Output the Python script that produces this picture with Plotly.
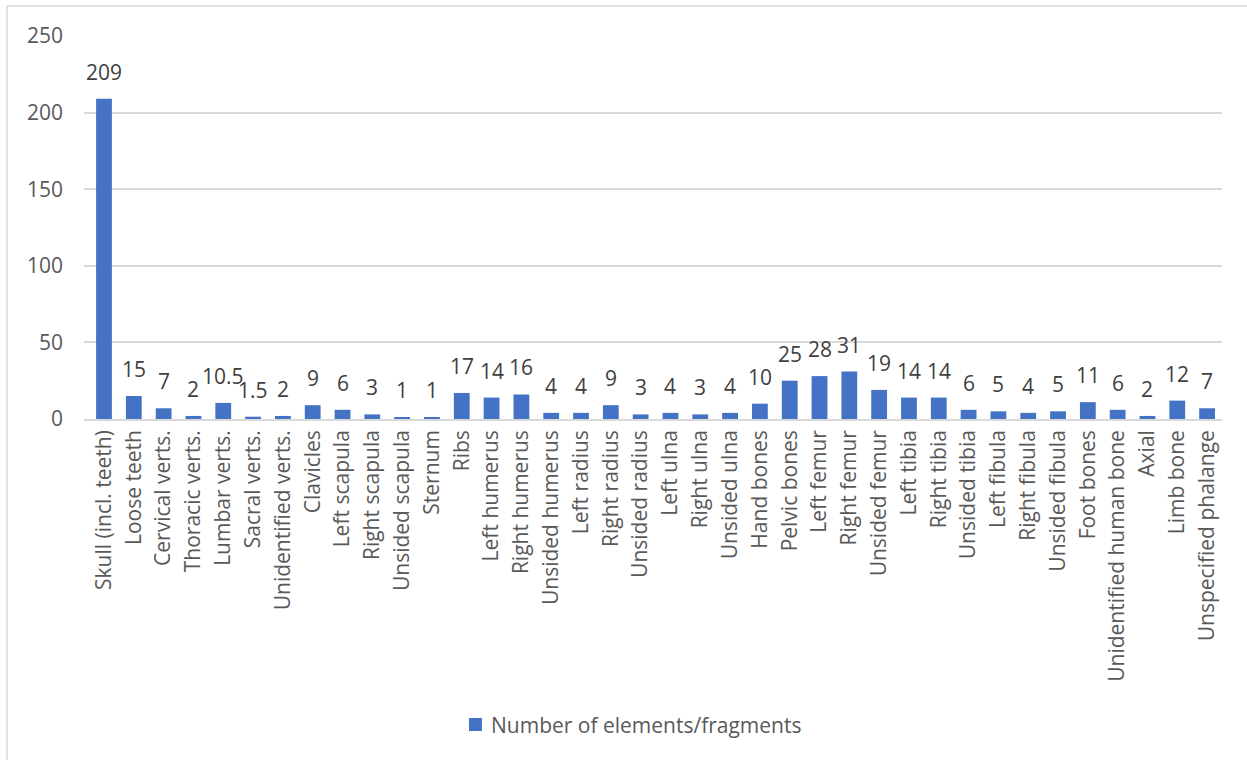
import plotly.graph_objects as go

# Skeletal elements and fragment counts
elements = [
    "Skull (incl. teeth)", "Loose teeth", "Cervical verts.", "Thoracic verts.",
    "Lumbar verts.", "Sacral verts.", "Unidentified verts.", "Clavicles",
    "Left scapula", "Right scapula", "Unsided scapula", "Sternum", "Ribs",
    "Left humerus", "Right humerus", "Unsided humerus", "Left radius",
    "Right radius", "Unsided radius", "Left ulna", "Right ulna", "Unsided ulna",
    "Hand bones", "Pelvic bones", "Left femur", "Right femur", "Unsided femur",
    "Left tibia", "Right tibia", "Unsided tibia", "Left fibula", "Right fibula",
    "Unsided fibula", "Foot bones", "Unidentified human bone", "Axial",
    "Limb bone", "Unspecified phalange",
]
counts = [
    209, 15, 7, 2, 10.5, 1.5, 2, 9, 6, 3, 1, 1, 17, 14, 16, 4, 4, 9, 3, 4, 3, 4,
    10, 25, 28, 31, 19, 14, 14, 6, 5, 4, 5, 11, 6, 2, 12, 7,
]
y_ticks = [0, 50, 100, 150, 200, 250]
series_name = "Number of elements/fragments"

FONT = "Open Sans"
BAR = "#4472C4"
GRID = "#D9D9D9"
TICK = "#595959"
LABEL = "#404040"

fig = go.Figure()
fig.add_trace(go.Bar(
    x=elements, y=counts, name=series_name, showlegend=False,
    marker=dict(color=BAR, line=dict(width=0)),
))

# value labels above each bar
for name, v in zip(elements, counts):
    fig.add_annotation(
        x=name, y=v, text=f"{v:g}", showarrow=False,
        yanchor="bottom", yshift=11,
        font=dict(family=FONT, size=21, color=LABEL),
    )

# legend key below the chart
fig.add_shape(
    type="rect", xref="paper", yref="paper",
    x0=0.3383, x1=0.3497, y0=-0.8146, y1=-0.7807,
    line=dict(width=0), fillcolor=BAR,
)
fig.add_annotation(
    xref="paper", yref="paper", x=0.3559, y=-0.799,
    xanchor="left", yanchor="middle", showarrow=False,
    text=series_name, font=dict(family=FONT, size=21, color=TICK),
)

# outer chart border
fig.add_shape(
    type="rect", xref="paper", yref="paper",
    x0=-0.0677, x1=1.2, y0=-1.2, y1=1.0783,
    line=dict(color=GRID, width=1.5), fillcolor="rgba(0,0,0,0)", layer="below",
)

fig.update_layout(
    width=1247, height=760,
    margin=dict(l=84, r=25, t=36, b=341),
    paper_bgcolor="white", plot_bgcolor="white",
    bargap=0.47,
    showlegend=False,
    xaxis=dict(
        tickangle=-90, tickfont=dict(family=FONT, size=21, color=TICK),
        showline=True, linecolor=GRID, linewidth=1.5,
        showgrid=False, ticks="", ticklabelstandoff=1,
    ),
    yaxis=dict(
        range=[0, 250], tickvals=y_ticks,
        tickfont=dict(family=FONT, size=21, color=TICK),
        showgrid=True, gridcolor=GRID, gridwidth=1.5,
        zeroline=False, showline=False, ticks="", ticklabelstandoff=20,
    ),
)

fig.write_html("out.html")
